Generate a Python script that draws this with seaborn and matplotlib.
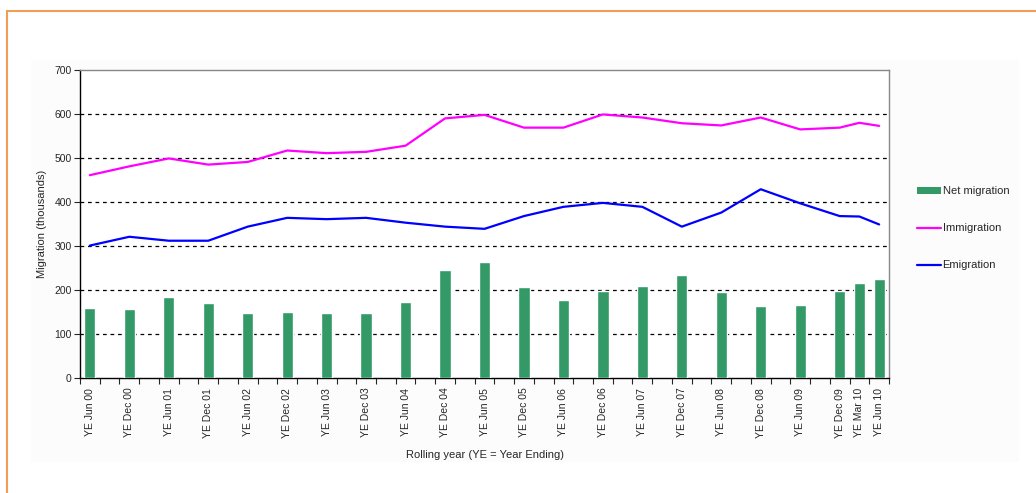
import numpy as np
import pandas as pd
import matplotlib
matplotlib.use('Agg')
import matplotlib.pyplot as plt
from matplotlib.lines import Line2D
from matplotlib.patches import Patch, Rectangle
import seaborn as sns

# rolling year periods that have data
periods = ['YE Jun 00', 'YE Dec 00', 'YE Jun 01', 'YE Dec 01', 'YE Jun 02', 'YE Dec 02',
           'YE Jun 03', 'YE Dec 03', 'YE Jun 04', 'YE Dec 04', 'YE Jun 05', 'YE Dec 05',
           'YE Jun 06', 'YE Dec 06', 'YE Jun 07', 'YE Dec 07', 'YE Jun 08', 'YE Dec 08',
           'YE Jun 09', 'YE Dec 09', 'YE Mar 10', 'YE Jun 10']
net_migration = [159, 157, 184, 170, 148, 151, 148, 148, 173, 246, 263, 206,
                 178, 198, 209, 233, 195, 164, 167, 198, 216, 226]
immigration = [461, 481, 499, 485, 491, 517, 511, 514, 528, 590, 598, 569,
               569, 599, 592, 579, 574, 592, 565, 569, 580, 573]
emigration = [301, 321, 312, 312, 344, 364, 361, 364, 353, 344, 339, 368,
              389, 398, 389, 344, 376, 429, 397, 368, 367, 349]

# quarterly category axis from YE Jun 00 to YE Jun 10
months = ['Mar', 'Jun', 'Sep', 'Dec']
all_quarters = []
for yr in range(0, 11):
    for m in months:
        all_quarters.append('YE %s %02d' % (m, yr))
all_quarters = all_quarters[all_quarters.index('YE Jun 00'):all_quarters.index('YE Jun 10') + 1]

df = pd.DataFrame({'period': periods, 'net': net_migration,
                   'imm': immigration, 'emi': emigration})
df['pos'] = [all_quarters.index(p) for p in periods]

sns.set_style('white')
plt.rcParams['font.family'] = ['Liberation Sans', 'DejaVu Sans']

fig = plt.figure(figsize=(10.36, 4.93), dpi=100)

# faint chart area + orange frame
fig.patches.append(Rectangle((31 / 1036, 1 - 462 / 493), (1019 - 31) / 1036, (462 - 60) / 493,
                             transform=fig.transFigure, facecolor='#fcfcfc', edgecolor='none', zorder=-5))
fig.lines.append(Line2D([7 / 1036, 7 / 1036], [0, 1 - 11 / 493], transform=fig.transFigure,
                        color='#EE9E55', lw=1.5))
fig.lines.append(Line2D([7 / 1036, 1], [1 - 11 / 493, 1 - 11 / 493], transform=fig.transFigure,
                        color='#EE9E55', lw=1.5))

ax = fig.add_axes([80 / 1036, 1 - 378 / 493, (889 - 80) / 1036, (378 - 70) / 493])
ax.set_facecolor('white')

sns.barplot(data=df, x='period', y='net', order=all_quarters, color='#339966',
            saturation=1, width=0.57, ax=ax, zorder=3)
sns.lineplot(data=df, x='pos', y='imm', color='#FF00FF', lw=1.6, ax=ax, zorder=4)
sns.lineplot(data=df, x='pos', y='emi', color='#0000FF', lw=1.6, ax=ax, zorder=4)

ax.set_xlim(-0.5, len(all_quarters) - 0.5)
ax.set_ylim(0, 700)
ax.set_yticks(range(0, 701, 100))
ax.tick_params(axis='y', labelsize=7.5, length=4, direction='out', width=0.8, pad=2, left=True)
for v in range(100, 700, 100):
    ax.axhline(v, color='black', lw=0.9, ls=(0, (3, 3)), zorder=1)

ax.set_xticks(df['pos'])
ax.set_xticklabels(periods, rotation=90, fontsize=7.5)
ax.set_xticks(np.arange(-0.5, len(all_quarters), 1), minor=True)
ax.tick_params(axis='x', which='major', length=0, pad=7)
ax.tick_params(axis='x', which='minor', length=4, width=0.8, direction='out', bottom=True)

for s in ['left', 'bottom']:
    ax.spines[s].set_color('black')
    ax.spines[s].set_linewidth(1)
for s in ['top', 'right']:
    ax.spines[s].set_color('#888888')
    ax.spines[s].set_linewidth(1)

ax.set_xlabel('Rolling year (YE = Year Ending)', fontsize=8, labelpad=9)
ax.set_ylabel('Migration (thousands)', fontsize=8, labelpad=5)

handles = [Patch(facecolor='#339966', edgecolor='none'),
           Line2D([], [], color='#FF00FF', lw=1.6),
           Line2D([], [], color='#0000FF', lw=1.6)]
fig.legend(handles, ['Net migration', 'Immigration', 'Emigration'], loc='upper left',
           bbox_to_anchor=(907 / 1036, 1 - 176 / 493), frameon=False, fontsize=8,
           handlelength=2.2, handletextpad=0.1, labelspacing=2.45, handleheight=0.6)

fig.savefig('out.png', dpi=100)
